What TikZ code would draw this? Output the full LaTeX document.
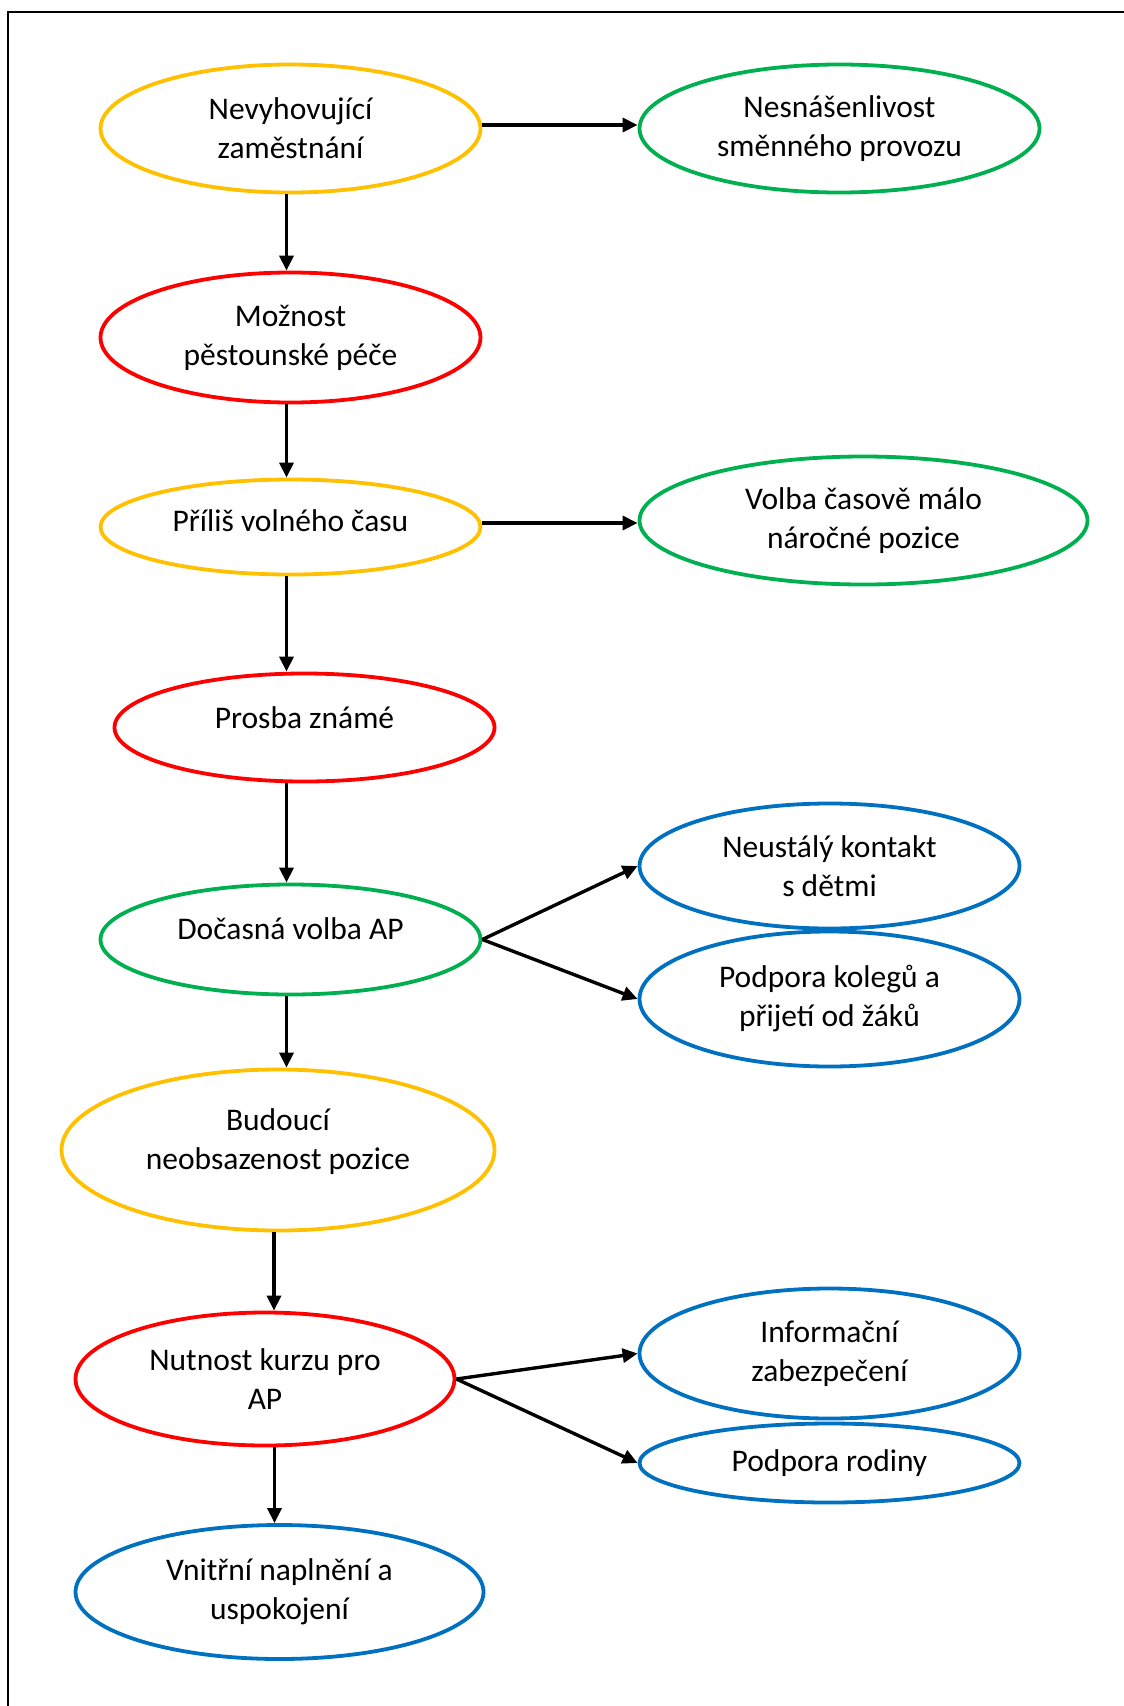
\documentclass[tikz,border=0pt]{standalone}
\usepackage{fontspec}
\setmainfont{Carlito}
\usetikzlibrary{shapes.geometric,arrows.meta}
\definecolor{zlutaC}{HTML}{FFC000}
\definecolor{cervenaC}{HTML}{FF0000}
\definecolor{zelenaC}{HTML}{00B050}
\definecolor{modraC}{HTML}{0070C0}
\newcommand{\zvedni}[2]{\raisebox{#1}[\height][\depth]{#2}}
\begin{document}
\begin{tikzpicture}[
	x=1pt, y=-1pt,
	elipsa/.style={ellipse, draw, line width=3.8pt, inner sep=0pt,
		align=center, font=\fontsize{31.5}{39}\selectfont},
	zluta/.style={draw=zlutaC},
	cervena/.style={draw=cervenaC},
	zelena/.style={draw=zelenaC},
	modra/.style={draw=modraC},
	sipka/.style={line width=3.4pt, black,
		-{Triangle[length=15pt, width=14pt]}},
	ramec/.style={line width=1.7pt, black},
	]
	\useasboundingbox (0,0) rectangle (1124,1706);
	
	% ramecek (pravy a dolni okraj mimo obrazek)
	\draw[ramec] (8,1706) -- (8,12) -- (1124,12);
	
	% hlavni vetev
	\node[elipsa, zluta, minimum width=380pt, minimum height=128pt]
		(nevyh) at (290.5,128.5) {Nevyhovující\\zaměstnání};
	\node[elipsa, cervena, minimum width=380pt, minimum height=130pt]
		(moznost) at (290.5,337.5) {Možnost\\pěstounské péče};
	\node[elipsa, zluta, minimum width=380pt, minimum height=95pt]
		(prilis) at (290.5,527) {\zvedni{6pt}{Příliš volného času}};
	\node[elipsa, cervena, minimum width=380pt, minimum height=108pt]
		(prosba) at (304.5,727.5) {\zvedni{10pt}{Prosba známé}};
	\node[elipsa, zelena, minimum width=380pt, minimum height=110pt]
		(docas) at (290.5,939.5) {\zvedni{11pt}{Dočasná volba AP}};
	\node[elipsa, zluta, minimum width=433pt, minimum height=161pt]
		(budouci) at (278,1150) {\zvedni{8pt}{Budoucí}\\\zvedni{8pt}{neobsazenost pozice}};
	\node[elipsa, cervena, minimum width=379pt, minimum height=133pt]
		(kurz) at (265,1379) {Nutnost kurzu pro\\AP};
	\node[elipsa, modra, minimum width=408pt, minimum height=134pt]
		(vnitrni) at (279.5,1592) {Vnitřní naplnění a\\uspokojení};
	
	% vedlejsi vetve
	\node[elipsa, zelena, minimum width=400pt, minimum height=128pt]
		(nesnas) at (839.5,128.5) {Nesnášenlivost\\směnného provozu};
	\node[elipsa, zelena, minimum width=448pt, minimum height=128pt]
		(volba) at (863.5,520.5) {Volba časově málo\\náročné pozice};
	\node[elipsa, modra, minimum width=380pt, minimum height=125pt]
		(kontakt) at (829.5,866) {Neustálý kontakt\\s dětmi};
	\node[elipsa, modra, minimum width=380pt, minimum height=135pt]
		(kolegove) at (829.5,999) {Podpora kolegů a\\přijetí od žáků};
	\node[elipsa, modra, minimum width=380pt, minimum height=130pt]
		(info) at (829.5,1353.5) {Informační\\zabezpečení};
	\node[elipsa, modra, minimum width=380pt, minimum height=79pt]
		(rodina) at (829.5,1463) {Podpora rodiny};
	
	% sipky dolu
	\draw[sipka] ([xshift=-4pt]nevyh.south) -- ([xshift=-4pt]moznost.north);
	\draw[sipka] ([xshift=-4pt]moznost.south) -- ([xshift=-4pt]prilis.north);
	\draw[sipka] ([xshift=-4pt]prilis.south) -- ([xshift=-4pt]prilis.south |- prosba.north);
	\draw[sipka] ([xshift=-4pt]prosba.south -| docas.north) -- ([xshift=-4pt]docas.north);
	\draw[sipka] ([xshift=-4pt]docas.south) -- ([xshift=-4pt]docas.south |- budouci.north);
	\draw[sipka] ([xshift=-4pt]budouci.south) -- ([xshift=-4pt]budouci.south |- kurz.north);
	\draw[sipka] ([xshift=-5pt]vnitrni.north |- kurz.south) -- ([xshift=-5pt]vnitrni.north);
	
	% sipky doprava
	\draw[sipka] ([yshift=3.5pt]nevyh.east) -- ([yshift=3.5pt]nesnas.west);
	\draw[sipka] ([yshift=4pt]prilis.east) -- ([yshift=4pt]prilis.east -| volba.west);
	\draw[sipka] (docas.east) -- (kontakt.west);
	\draw[sipka] (docas.east) -- (kolegove.west);
	\draw[sipka] (kurz.east) -- (info.west);
	\draw[sipka] (kurz.east) -- (rodina.west);
	
\end{tikzpicture}
\end{document}
